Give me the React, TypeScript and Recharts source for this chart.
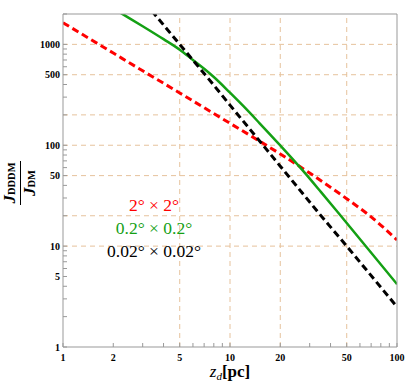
import { LineChart, Line, XAxis, YAxis, ReferenceLine } from 'recharts';

// 2° x 2° (red, dashed)
const redX = [1, 2, 3, 5, 10, 15, 20, 30, 50, 70, 100];
const redY = [1640, 820, 547, 330, 165, 110, 82, 53, 29.5, 19.5, 11.5];
// 0.2° x 0.2° (green, solid)
const greenX = [2, 2.25, 3, 4, 5, 6, 7, 8, 10, 12, 15, 20, 27, 35, 45, 66, 100];
const greenY = [2270, 2018, 1514, 1126, 886, 700, 573, 475, 332, 245, 166, 99.5, 57.3, 34.5, 20.9, 9.7, 4.2];
// 0.02° x 0.02° (black, dashed)
const blackX = [3.4, 5, 7.25, 10, 20, 33.8, 50, 100];
const blackY = [2150, 1000, 480, 250, 62, 21.5, 10, 2.5];

const xTicks = [1, 2, 3, 4, 5, 6, 7, 8, 9, 10, 20, 30, 40, 50, 60, 70, 80, 90, 100];
const xLabels = [1, 2, 5, 10, 20, 50, 100];
const yTicks = [1, 2, 3, 4, 5, 6, 7, 8, 9, 10, 20, 30, 40, 50, 60, 70, 80, 90, 100, 200, 300, 400, 500, 600, 700, 800, 900, 1000, 2000];
const yLabels = [1, 5, 10, 50, 100, 500, 1000];
const xGrid = [5, 10, 20, 50];
const yGrid = [10, 20, 50, 100, 200, 500, 1000];

const zip = (xs: number[], ys: number[]) => xs.map((x, i) => ({ x, y: ys[i] }));
const redData = zip(redX, redY);
const greenData = zip(greenX, greenY);
const blackData = zip(blackX, blackY);

const frame = '#999999';
const gridColor = '#e6c29c';
const serif = '"Liberation Serif", "Times New Roman", serif';
const tickFont = { fill: '#000', fontSize: 10, fontWeight: 'bold', fontFamily: serif };

export default function App() {
  return (
    <div style={{ position: 'absolute', left: 0, top: 0, width: 405, height: 390, background: '#fff' }}>
      <LineChart width={405} height={390} margin={{ top: 0, right: 0, bottom: 0, left: 0 }}>
        <XAxis dataKey="x" type="number" scale="log" domain={[1, 100]} ticks={xTicks} interval={0}
          allowDataOverflow height={43} stroke={frame} tickSize={-4} tickMargin={11}
          tick={tickFont} tickFormatter={(v: number) => (xLabels.includes(v) ? String(v) : '')} />
        <XAxis xAxisId="top" orientation="top" dataKey="x" type="number" scale="log" domain={[1, 100]}
          ticks={xTicks} interval={0} allowDataOverflow height={14} stroke={frame} tickSize={-4}
          tick={false} />
        <YAxis type="number" scale="log" domain={[1, 2000]} ticks={yTicks} interval={0}
          allowDataOverflow width={63} stroke={frame} tickSize={-4} tickMargin={7}
          tick={tickFont} tickFormatter={(v: number) => (yLabels.includes(v) ? String(v) : '')} />
        <YAxis yAxisId="right" orientation="right" type="number" scale="log" domain={[1, 2000]}
          ticks={yTicks} interval={0} allowDataOverflow width={8} stroke={frame} tickSize={-4}
          tick={false} />
        {xGrid.map((v) => (
          <ReferenceLine key={'gx' + v} x={v} stroke={gridColor} strokeDasharray="5 4" />
        ))}
        {yGrid.map((v) => (
          <ReferenceLine key={'gy' + v} y={v} stroke={gridColor} strokeDasharray="5 4" />
        ))}
        <Line data={redData} dataKey="y" type="monotone" stroke="#ff0000" strokeWidth={3}
          strokeDasharray="7 4" dot={false} isAnimationActive={false} />
        <Line data={greenData} dataKey="y" type="monotone" stroke="#14a014" strokeWidth={2.5}
          dot={false} isAnimationActive={false} />
        <Line data={blackData} dataKey="y" type="linear" stroke="#000000" strokeWidth={3}
          strokeDasharray="7 4" dot={false} isAnimationActive={false} />
      </LineChart>

      <div style={{ position: 'absolute', left: 54, top: 194, width: 200, textAlign: 'center', fontFamily: serif, fontSize: 17.5, lineHeight: '23px' }}>
        <div style={{ color: '#ff0000' }}>2° × 2°</div>
        <div style={{ color: '#14a014' }}>0.2° × 0.2°</div>
        <div style={{ color: '#000' }}>0.02° × 0.02°</div>
      </div>

      <div style={{ position: 'absolute', left: 130, top: 366, width: 200, textAlign: 'center', fontFamily: serif, fontSize: 17, lineHeight: '12px', whiteSpace: 'nowrap' }}>
        <i>z</i><sub style={{ fontSize: 11, fontStyle: 'italic', verticalAlign: '-3px', lineHeight: '10px' }}>d</sub>
        <b>[pc]</b>
      </div>

      <div style={{ position: 'absolute', left: 18, top: 183, width: 0, height: 0 }}>
        <div style={{ position: 'absolute', left: -35, top: -16, width: 70, transform: 'rotate(-90deg)', transformOrigin: '35px 16px', fontFamily: serif, fontWeight: 'bold', textAlign: 'center', lineHeight: '15px' }}>
          <div style={{ display: 'inline-block' }}>
            <div style={{ borderBottom: '1.3px solid #000', padding: '0 1px 1px' }}>
              <i style={{ fontSize: 17 }}>J</i><span style={{ fontSize: 10.5 }}>DDDM</span>
            </div>
            <div style={{ paddingTop: 1 }}>
              <i style={{ fontSize: 17 }}>J</i><span style={{ fontSize: 10.5 }}>DM</span>
            </div>
          </div>
        </div>
      </div>
    </div>
  );
}
